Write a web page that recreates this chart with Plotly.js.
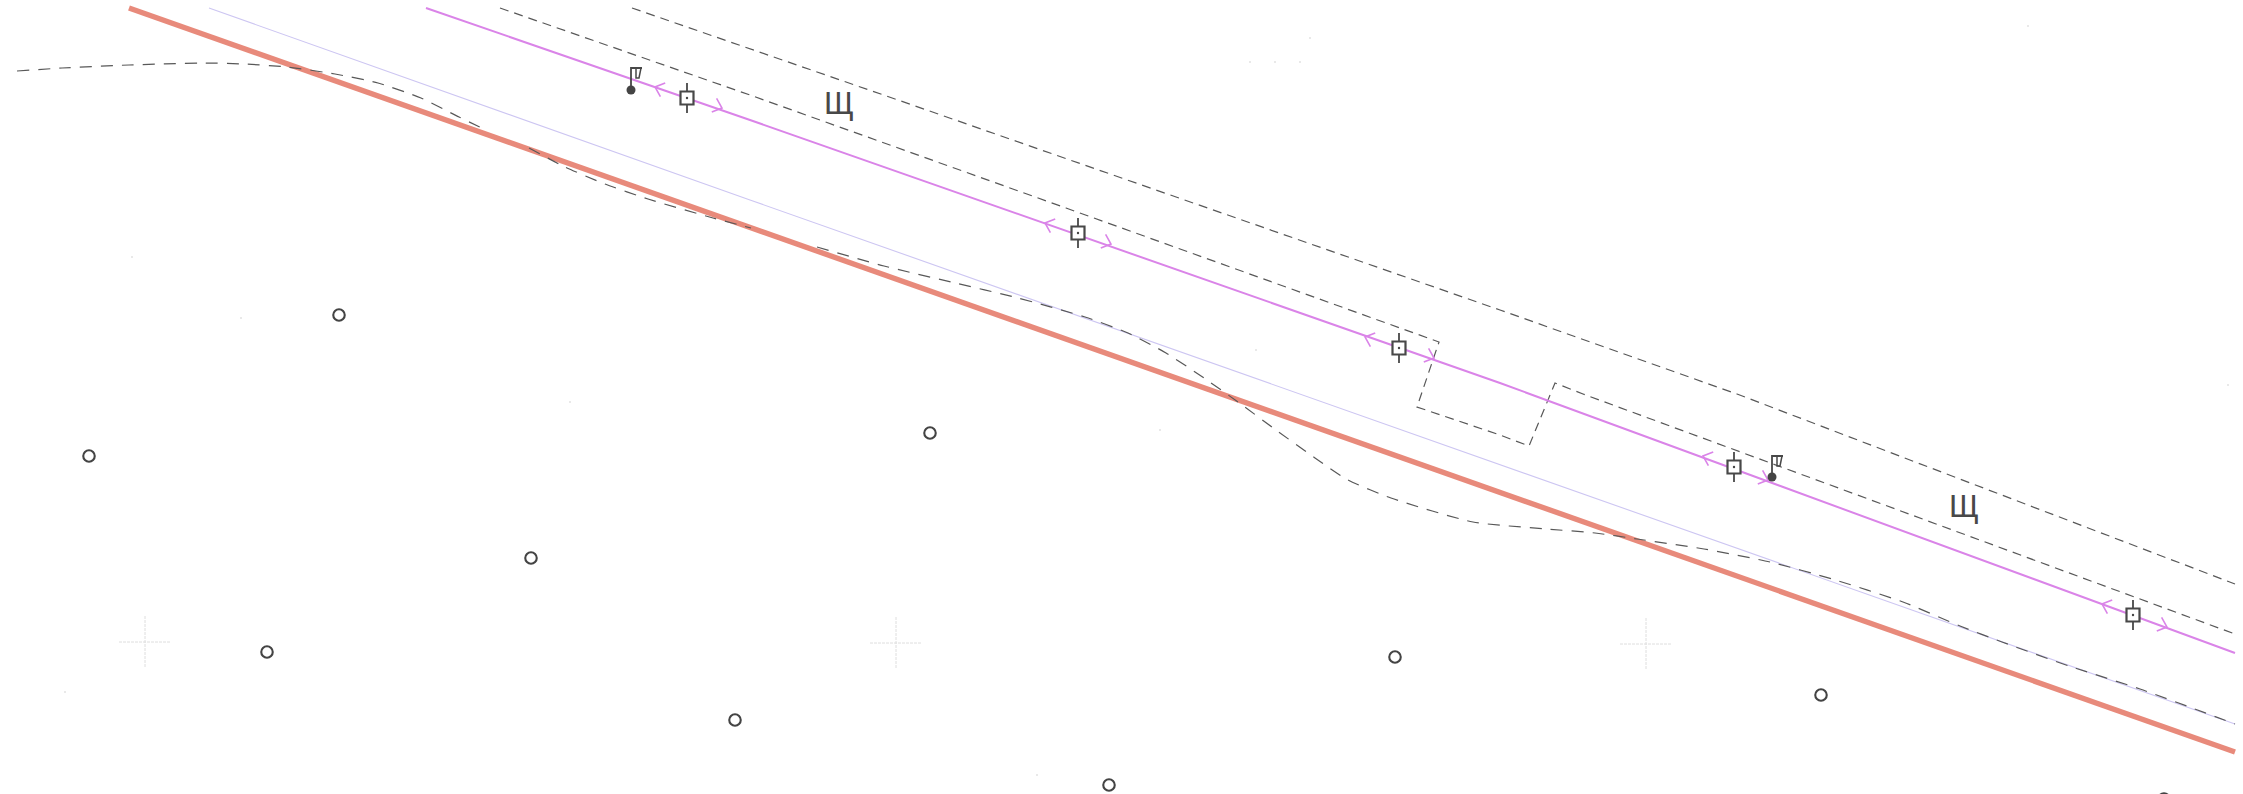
<!DOCTYPE html>
<html>
<head>
<meta charset="utf-8">
<script src="https://cdn.plot.ly/plotly-3.0.1.min.js"></script>
<style>html,body{margin:0;padding:0;background:#fff}</style>
</head>
<body>
<div id="chart" style="width:2243px;height:794px"></div>
<script>
// Line work
const redX = [129, 1200, 2235];
const redY = [8, 387, 752];
const lavenderX = [209, 750, 2235];
const lavenderY = [8, 200, 724];
const purpleX = [426, 750, 1500, 2235];
const purpleY = [8, 120, 383, 653];
const upperDashX = [500, 750, 1066, 1439, 1417, 1500, 1529, 1555, 1583, 2235];
const upperDashY = [8, 95, 208, 342, 407, 435, 446, 383, 394, 634];
const topDashX = [632, 898, 1500, 1737, 2235];
const topDashY = [8, 100, 310, 394, 584];
const roadAX = [17, 62, 129, 201, 244, 287, 335, 378, 421, 459, 488];
const roadAY = [71, 68, 65, 63, 64, 67, 74, 83, 98, 117, 131];
const roadBX = [529, 565, 605, 648, 713, 751];
const roadBY = [148, 167, 184, 199, 218, 228];
const roadCX = [817, 884, 951, 1018, 1085, 1128, 1166, 1204, 1238, 1276, 1315, 1348, 1391, 1473, 1547, 1595, 1637, 1704, 1770, 1832, 1903, 1960, 2002, 2069, 2140, 2235];
const roadCY = [247, 266, 282, 298, 317, 333, 353, 378, 402, 430, 458, 480, 498, 522, 529, 533, 539, 549, 562, 579, 602, 626, 642, 666, 689, 724];
// Point symbols
const circleX = [339, 89, 930, 531, 267, 735, 1395, 1821, 1109, 2164];
const circleY = [315, 456, 433, 558, 652, 720, 657, 695, 785, 799];
const signalX = [687, 1078, 1399, 1734, 2133];
const signalY = [98, 233, 348, 467, 615];
const arrowBackX = [655, 1045, 1365, 1703, 2102];
const arrowBackY = [87, 223, 337, 456, 604];
const arrowFwdX = [722, 1111, 1434, 1768, 2167];
const arrowFwdY = [108, 244, 358, 480, 627];
const flagX = [631, 1772];
const flagTopY = [68, 456];
const flagFootY = [90, 477];
const crossX = [145, 896, 1646];
const crossY = [642, 643, 644];
const labelX = [839, 1964];
const labelY = [106, 509];
const labelText = ['Щ', 'Щ'];
const speckX = [1310, 2028, 1250, 1275, 1300, 2228, 1160, 1256, 570, 132, 241, 65, 1037];
const speckY = [38, 26, 62, 62, 62, 385, 430, 350, 402, 257, 318, 692, 775];

const ink = '#484848';
const dashInk = '#585858';
function line(x, y, color, width, dash, shape) {
  return {x, y, type: 'scatter', mode: 'lines', hoverinfo: 'skip',
          line: {color, width, dash: dash || 'solid', shape: shape || 'linear', smoothing: 0.6}};
}
function withGaps(list, build) {
  const xs = [], ys = [];
  list.forEach((_, i) => {
    const seg = build(i);
    seg.forEach(p => { xs.push(p[0]); ys.push(p[1]); });
    xs.push(null); ys.push(null);
  });
  return [xs, ys];
}
// Chevrons sit on the track direction; arms swept back from the tip
const dirX = 0.943, dirY = 0.332;
function chevron(tx, ty, sign) {
  const a = 11, c = Math.cos(0.72), s = Math.sin(0.72);
  const bx = -sign * dirX, by = -sign * dirY;
  return [[tx + a * (bx * c - by * s), ty + a * (bx * s + by * c)],
          [tx, ty],
          [tx + a * (bx * c + by * s), ty + a * (-bx * s + by * c)]];
}
const [backX, backY] = withGaps(arrowBackX, i => chevron(arrowBackX[i], arrowBackY[i], -1));
const [fwdX, fwdY] = withGaps(arrowFwdX, i => chevron(arrowFwdX[i], arrowFwdY[i], 1));
const [stemX, stemY] = withGaps(signalX, i => [[signalX[i], signalY[i] - 15], [signalX[i], signalY[i] + 15]]);
const [poleX, poleY] = withGaps(flagX, i => [[flagX[i], flagFootY[i]], [flagX[i], flagTopY[i]], [flagX[i] + 11, flagTopY[i]]]);
const [penX, penY] = withGaps(flagX, i => [[flagX[i] + 5, flagTopY[i]], [flagX[i] + 5, flagTopY[i] + 10], [flagX[i] + 8, flagTopY[i] + 10], [flagX[i] + 10, flagTopY[i]]]);
const [crossLX, crossLY] = withGaps(crossX, i => [[crossX[i] - 26, crossY[i]], [crossX[i] + 26, crossY[i]], [null, null], [crossX[i], crossY[i] - 26], [crossX[i], crossY[i] + 26]]);

const traces = [
  line(crossLX, crossLY, '#dedede', 1, '3px,1px'),
  {x: speckX, y: speckY, type: 'scatter', mode: 'markers', hoverinfo: 'skip',
   marker: {size: 2, color: '#e2e2e2'}},
  line(redX, redY, '#e88a7b', 5.4),
  line(lavenderX, lavenderY, '#cdc6f2', 1.1),
  line(upperDashX, upperDashY, dashInk, 1.2, '9px,6px'),
  line(topDashX, topDashY, dashInk, 1.2, '9px,6px'),
  line(roadAX, roadAY, dashInk, 1.2, '12px,9px', 'spline'),
  line(roadBX, roadBY, dashInk, 1.2, '12px,9px', 'spline'),
  line(roadCX, roadCY, dashInk, 1.2, '12px,9px', 'spline'),
  line(purpleX, purpleY, '#da84e8', 2),
  line(backX, backY, '#da84e8', 1.6),
  line(fwdX, fwdY, '#da84e8', 1.6),
  line(stemX, stemY, ink, 1.8),
  {x: signalX, y: signalY, type: 'scatter', mode: 'markers', hoverinfo: 'skip',
   marker: {symbol: 'square', size: 13, color: '#fff', line: {color: ink, width: 2.2}}},
  {x: signalX, y: signalY, type: 'scatter', mode: 'markers', hoverinfo: 'skip',
   marker: {symbol: 'circle', size: 2.4, color: '#444'}},
  line(poleX, poleY, ink, 1.8),
  line(penX, penY, ink, 1.5),
  {x: flagX, y: flagFootY, type: 'scatter', mode: 'markers', hoverinfo: 'skip',
   marker: {symbol: 'circle', size: 9, color: '#444'}},
  {x: circleX, y: circleY, type: 'scatter', mode: 'markers', hoverinfo: 'skip',
   marker: {symbol: 'circle', size: 11.5, color: '#fff', line: {color: '#444', width: 2.1}}},
  {x: labelX, y: labelY, text: labelText, type: 'scatter', mode: 'text', hoverinfo: 'skip',
   textposition: 'middle center',
   textfont: {family: 'Liberation Sans, Arial, sans-serif', size: 32, color: '#484848'}}
];

const layout = {
  width: 2243, height: 794,
  margin: {l: 0, r: 0, t: 0, b: 0, pad: 0},
  paper_bgcolor: '#ffffff', plot_bgcolor: '#ffffff',
  showlegend: false,
  xaxis: {range: [0, 2243], visible: false, fixedrange: true},
  yaxis: {range: [794, 0], visible: false, fixedrange: true}
};
Plotly.newPlot('chart', traces, layout, {staticPlot: true, displayModeBar: false});
</script>
</body>
</html>
